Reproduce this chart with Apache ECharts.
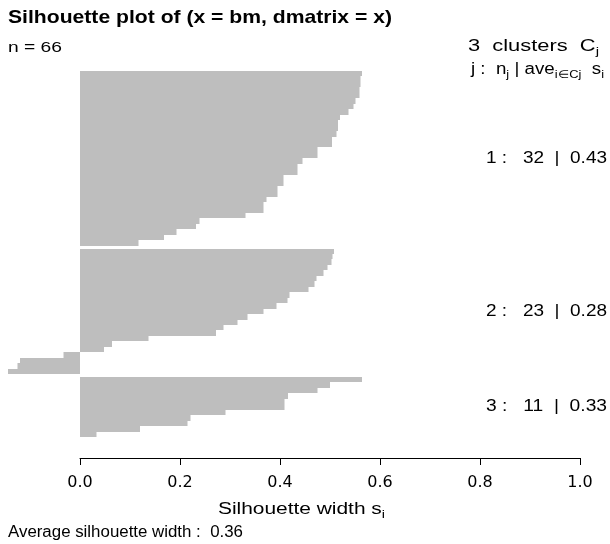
<!DOCTYPE html>
<html>
<head>
<meta charset="utf-8">
<script src="https://cdn.jsdelivr.net/npm/echarts@6/dist/echarts.min.js"></script>
<style>
  html, body { margin: 0; padding: 0; background: #fff; }
  #chart { width: 610px; height: 544px; }
</style>
</head>
<body>
<div id="chart"></div>
<script>
// silhouette widths per cluster, sorted high -> low (top -> bottom)
const cluster1 = [0.564, 0.561, 0.561, 0.559, 0.559, 0.551, 0.547, 0.537, 0.520, 0.516, 0.516,
                  0.513, 0.504, 0.504, 0.475, 0.475, 0.445, 0.435, 0.435, 0.407, 0.407, 0.395,
                  0.395, 0.373, 0.367, 0.367, 0.331, 0.239, 0.232, 0.193, 0.168, 0.117]
const cluster2 = [0.508, 0.505, 0.503, 0.495, 0.487, 0.473, 0.469, 0.457, 0.419, 0.415, 0.393,
                  0.367, 0.335, 0.315, 0.287, 0.272, 0.137, 0.064, 0.048, -0.033, -0.120, -0.125, -0.144]
const cluster3 = [0.564, 0.500, 0.475, 0.416, 0.409, 0.409, 0.291, 0.221, 0.215, 0.120, 0.033]
const clusters = [cluster1, cluster2, cluster3]
const xTickLabels = ['0.0', '0.2', '0.4', '0.6', '0.8', '1.0']

const FONT = "'Liberation Sans', Arial, sans-serif"
const SUB = 11      // subscript font size
const GAP = 0.5     // space between clusters, in bar units

// build rows: [width, position, cluster]
const rows = []
const mids = []
let pos = 0
clusters.forEach(function (c, k) {
    if (k > 0) pos += GAP
    mids.push(pos + c.length / 2)
    c.forEach(function (s) {
        rows.push([s, pos, k])
        pos += 1
    })
})
const total = pos
const mean = a => a.reduce((p, q) => p + q, 0) / a.length
const avgAll = mean(rows.map(r => r[0]))

function renderItem(params, api) {
    const s = api.value(0), p = api.value(1)
    const a = api.coord([0, p])
    const b = api.coord([s, p + 1])
    const y0 = Math.round(Math.min(a[1], b[1])), y1 = Math.round(Math.max(a[1], b[1]))
    return {
        type: 'rect',
        shape: { x: Math.min(a[0], b[0]), y: y0, width: Math.abs(b[0] - a[0]), height: y1 - y0 },
        style: { fill: '#bebebe' }
    }
}

// text helpers: segments [text, isSub]; stretched horizontally to fit [x0, x1]
const ctx = document.createElement('canvas').getContext('2d')
function measure(str, size, bold) {
    ctx.font = (bold ? 'bold ' : '') + size + 'px ' + FONT
    return ctx.measureText(str).width
}
function label(segs, size, x0, x1, yc, bold) {
    let w = 0, text = ''
    segs.forEach(function (s) {
        if (s[1]) { w += measure(s[0], SUB); text += '{sub|' + s[0] + '}' }
        else { w += measure(s[0], size, bold); text += '{m|' + s[0] + '}' }
    })
    return {
        type: 'text', x: x0, y: yc, scaleX: (x1 - x0) / w, z: 10,
        style: {
            text: text, fill: '#000', verticalAlign: 'middle', align: 'left',
            rich: {
                m: { fontFamily: FONT, fontSize: size, fontWeight: bold ? 'bold' : 'normal', fill: '#000', lineHeight: 20 },
                sub: { fontFamily: FONT, fontSize: SUB, fill: '#000', lineHeight: 20, padding: [9, 0, 0, 0] }
            }
        }
    }
}

const chart = echarts.init(document.getElementById('chart'))
chart.setOption({
    animation: false,
    grid: { left: 80, right: 30, top: 71, bottom: 107 },
    xAxis: {
        type: 'value', min: 0, max: 1, interval: 0.2, offset: 21, position: 'bottom',
        splitLine: { show: false },
        axisLine: { show: true, onZero: false, lineStyle: { color: '#000', width: 1 } },
        axisTick: { show: true, length: 7, lineStyle: { color: '#000' } },
        axisLabel: {
            margin: 17, fontFamily: "'DejaVu Sans', sans-serif", fontSize: 16, color: '#000',
            formatter: function (v) { return xTickLabels[Math.round(v * 5)] }
        }
    },
    yAxis: { type: 'value', min: 0, max: total, inverse: true, show: false },
    series: [{
        type: 'custom',
        renderItem: renderItem,
        clip: false,
        encode: { x: 0, y: 1 },
        data: rows
    }]
})

const graphics = [
    label([['Silhouette plot of (x = bm, dmatrix = x)']], 19, 8, 392, 18, true),
    label([['n = ' + rows.length]], 14, 8, 62, 48),
    label([['3  clusters  C'], ['j', 1]], 16, 468, 599, 47),
    label([['j :  n'], ['j', 1], [' | ave'], ['i\u2208Cj', 1], ['  s'], ['i', 1]], 16, 471, 604, 70),
    label([['Silhouette width s'], ['i', 1]], 16, 218, 385, 510),
    label([['Average silhouette width :  ' + avgAll.toFixed(2)]], 16, 8, 243, 533)
]
clusters.forEach(function (c, k) {
    const y = chart.convertToPixel({ gridIndex: 0 }, [0, mids[k]])[1]
    graphics.push(label([[(k + 1) + ' :   ' + c.length + '  |  ' + mean(c).toFixed(2)]], 16, 486, 607, y))
})
chart.setOption({ graphic: graphics })
</script>
</body>
</html>
